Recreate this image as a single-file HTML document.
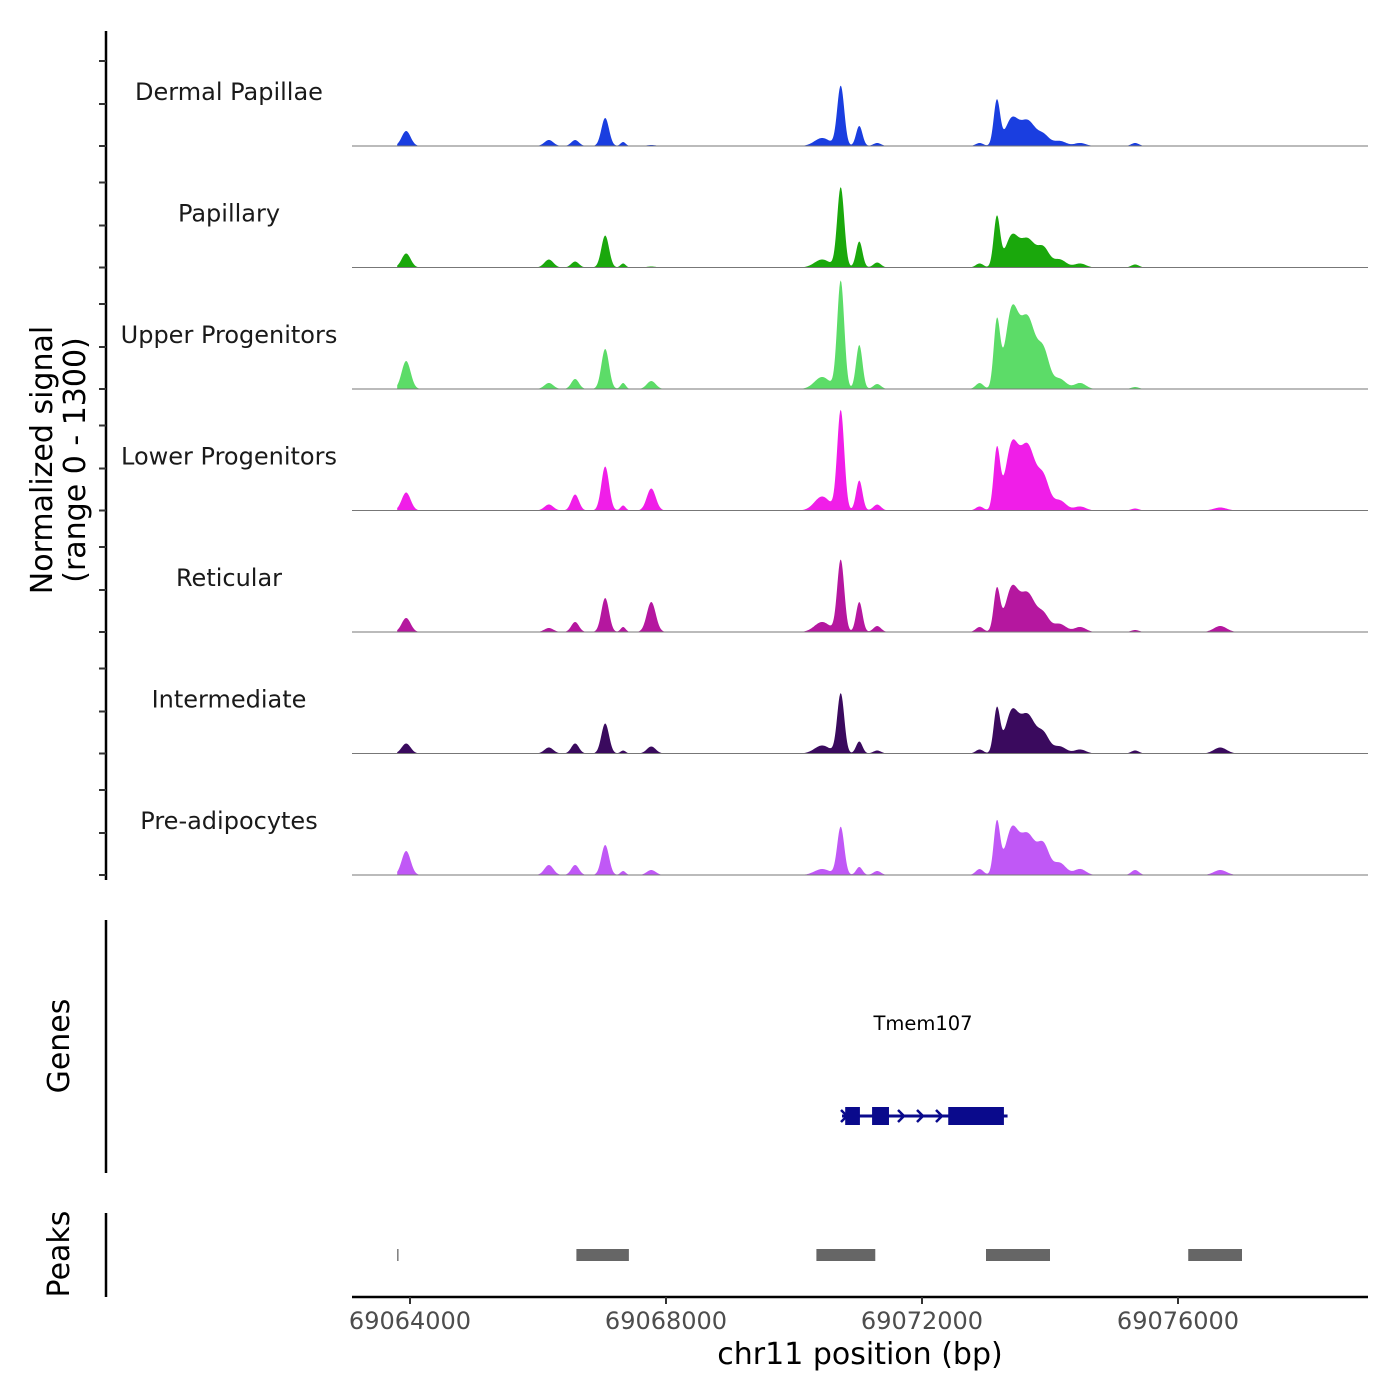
<!DOCTYPE html>
<html><head><meta charset="utf-8"><style>
html,body{margin:0;padding:0;background:#fff;}
svg{display:block;font-family:"DejaVu Sans","Liberation Sans",sans-serif;}
</style></head><body>
<svg id="chart" width="1400" height="1400" viewBox="0 0 1400 1400" xmlns="http://www.w3.org/2000/svg">
<rect width="1400" height="1400" fill="#fff"/>
<g id="tracks"></g>
<line x1="106" y1="31" x2="106" y2="880" stroke="#000" stroke-width="2.5"/>
<g id="yticks"></g>
<text transform="translate(52,460) rotate(-90)" text-anchor="middle" font-size="30">Normalized signal</text>
<text transform="translate(85,460) rotate(-90)" text-anchor="middle" font-size="30">(range 0 - 1300)</text>
<line x1="106" y1="920" x2="106" y2="1173" stroke="#000" stroke-width="2.5"/>
<text transform="translate(69,1046) rotate(-90)" text-anchor="middle" font-size="30">Genes</text>
<text x="923" y="1030" text-anchor="middle" font-size="19.5">Tmem107</text>
<g id="gene"></g>
<line x1="106" y1="1213" x2="106" y2="1297" stroke="#000" stroke-width="2.5"/>
<text transform="translate(69,1254) rotate(-90)" text-anchor="middle" font-size="30">Peaks</text>
<g id="peaks"></g>
<line x1="352" y1="1297" x2="1368" y2="1297" stroke="#000" stroke-width="2.5"/>
<g id="xticks"></g>
<text x="860" y="1364" text-anchor="middle" font-size="30">chr11 position (bp)</text>
</svg>
<script>
const NS="http://www.w3.org/2000/svg";
const trackNames=["Dermal Papillae","Papillary","Upper Progenitors","Lower Progenitors","Reticular","Intermediate","Pre-adipocytes"];
const trackColors=["#1a3ee0","#1aa80c","#5cdc68","#f01ee8","#b5179f","#3a0a5e","#c058f6"];
const peakCenters=[69063940,69066170,69066580,69067050,69067330,69067770,69070440,69070730,69071020,69071300,69072900,69073170,69073400,69073650,69073900,69074150,69074470,69075330,69076660];
const peakWidths=[70,70,60,60,40,70,120,55,50,60,60,50,100,120,90,100,90,60,100];
const sigDP=[150,60,60,280,40,10,80,600,200,30,30,450,260,250,100,50,30,30,0];
const sigPap=[140,80,60,320,40,10,80,800,260,50,40,500,300,280,180,80,40,30,0];
const sigUP=[280,60,100,400,60,80,120,1080,440,50,60,660,750,700,350,100,60,20,0];
const sigLP=[180,60,160,440,50,220,140,1000,300,60,40,600,620,640,300,100,40,20,30];
const sigRet=[140,40,100,340,50,300,100,720,300,60,50,420,420,380,160,80,50,20,60];
const sigInt=[100,60,100,300,30,70,80,600,120,30,40,440,400,380,180,70,40,30,60];
const sigPre=[240,100,100,300,40,50,60,480,80,40,60,520,440,400,280,120,60,50,50];
const trackSignals=[sigDP,sigPap,sigUP,sigLP,sigRet,sigInt,sigPre];
const xTicks=[69064000,69068000,69072000,69076000];
const peakStarts=[69063800,69066600,69070350,69073000,69076160];
const peakEnds=[69063820,69067420,69071270,69074000,69077000];
const exonStarts=[69070800,69071220,69072410];
const exonEnds=[69071030,69071484,69073280];
const geneStart=69070750, geneEnd=69073290;

const xs=bp=>410+(bp-69064000)*0.064;
const panelTop=24.5, panelH=121.5, yMax=1215;
const ys=(v,i)=>panelTop+panelH*(i+1)-v/yMax*panelH;
const regStart=69063800, regEnd=69077000;

const tracks=document.getElementById('tracks');
trackNames.forEach((nm,i)=>{
  const base=ys(0,i);
  const sig=trackSignals[i];
  let d="M"+xs(regStart)+","+base;
  for(let bp=regStart;bp<=regEnd;bp+=10){
    let v=0;
    for(let k=0;k<peakCenters.length;k++){const z=(bp-peakCenters[k])/peakWidths[k];v+=sig[k]*Math.exp(-0.5*z*z);}
    d+=" L"+xs(bp).toFixed(2)+","+ys(v,i).toFixed(2);
  }
  d+=" L"+xs(regEnd)+","+base+" Z";
  const p=document.createElementNS(NS,'path');
  p.setAttribute('d',d);p.setAttribute('fill',trackColors[i]);
  
  
  tracks.appendChild(p);
  const l=document.createElementNS(NS,'line');
  l.setAttribute('x1',352);l.setAttribute('x2',1368);l.setAttribute('y1',base);l.setAttribute('y2',base);
  l.setAttribute('stroke','#777');l.setAttribute('stroke-width','1');
  
  
  tracks.appendChild(l);
  const t=document.createElementNS(NS,'text');
  t.setAttribute('x',229);t.setAttribute('y',base-46);t.setAttribute('text-anchor','middle');t.setAttribute('font-size','24');t.setAttribute('fill','#1a1a1a');
  t.textContent=nm;
  
  
  tracks.appendChild(t);
});
const yt=document.getElementById('yticks');
for(let i=0;i<7;i++){[0,420,850].forEach(v=>{
  const y=ys(v,i);const l=document.createElementNS(NS,'line');
  l.setAttribute('x1',99);l.setAttribute('x2',106);l.setAttribute('y1',y);l.setAttribute('y2',y);l.setAttribute('stroke','#333');l.setAttribute('stroke-width','2');
  
  
  yt.appendChild(l);});}
const xt=document.getElementById('xticks');
xTicks.forEach(v=>{
  const x=xs(v);const l=document.createElementNS(NS,'line');
  l.setAttribute('x1',x);l.setAttribute('x2',x);l.setAttribute('y1',1297);l.setAttribute('y2',1304);l.setAttribute('stroke','#333');l.setAttribute('stroke-width','2');
  
  
  xt.appendChild(l);
  const t=document.createElementNS(NS,'text');
  t.setAttribute('x',x);t.setAttribute('y',1329);t.setAttribute('text-anchor','middle');t.setAttribute('font-size','24');t.setAttribute('fill','#4d4d4d');
  t.textContent=v;
  
  
  xt.appendChild(t);
});
const pk=document.getElementById('peaks');
peakStarts.forEach((s,i)=>{
  const r=document.createElementNS(NS,'rect');
  const x0=xs(s),x1=Math.max(xs(peakEnds[i]),x0+1.2);
  r.setAttribute('x',x0);r.setAttribute('width',x1-x0);r.setAttribute('y',1249);r.setAttribute('height',12);r.setAttribute('fill','#666');
  
  
  pk.appendChild(r);
});
const g=document.getElementById('gene');
const gl=document.createElementNS(NS,'line');
gl.setAttribute('x1',xs(geneStart));gl.setAttribute('x2',xs(geneEnd)+3);gl.setAttribute('y1',1116);gl.setAttribute('y2',1116);gl.setAttribute('stroke','#0a0a8c');gl.setAttribute('stroke-width','3');


g.appendChild(gl);
exonStarts.forEach((s,i)=>{
  const r=document.createElementNS(NS,'rect');
  r.setAttribute('x',xs(s));r.setAttribute('width',xs(exonEnds[i])-xs(s));r.setAttribute('y',1107);r.setAttribute('height',18);r.setAttribute('fill','#0a0a8c');
  
  
  g.appendChild(r);
});
[841,898,917,936].forEach(x=>{
  const p=document.createElementNS(NS,'path');
  p.setAttribute('d',`M${x},1110 L${x+6},1116 L${x},1122`);p.setAttribute('stroke','#0a0a8c');p.setAttribute('stroke-width','2.5');p.setAttribute('fill','none');
  
  
  g.appendChild(p);
});
</script>
</body></html>
